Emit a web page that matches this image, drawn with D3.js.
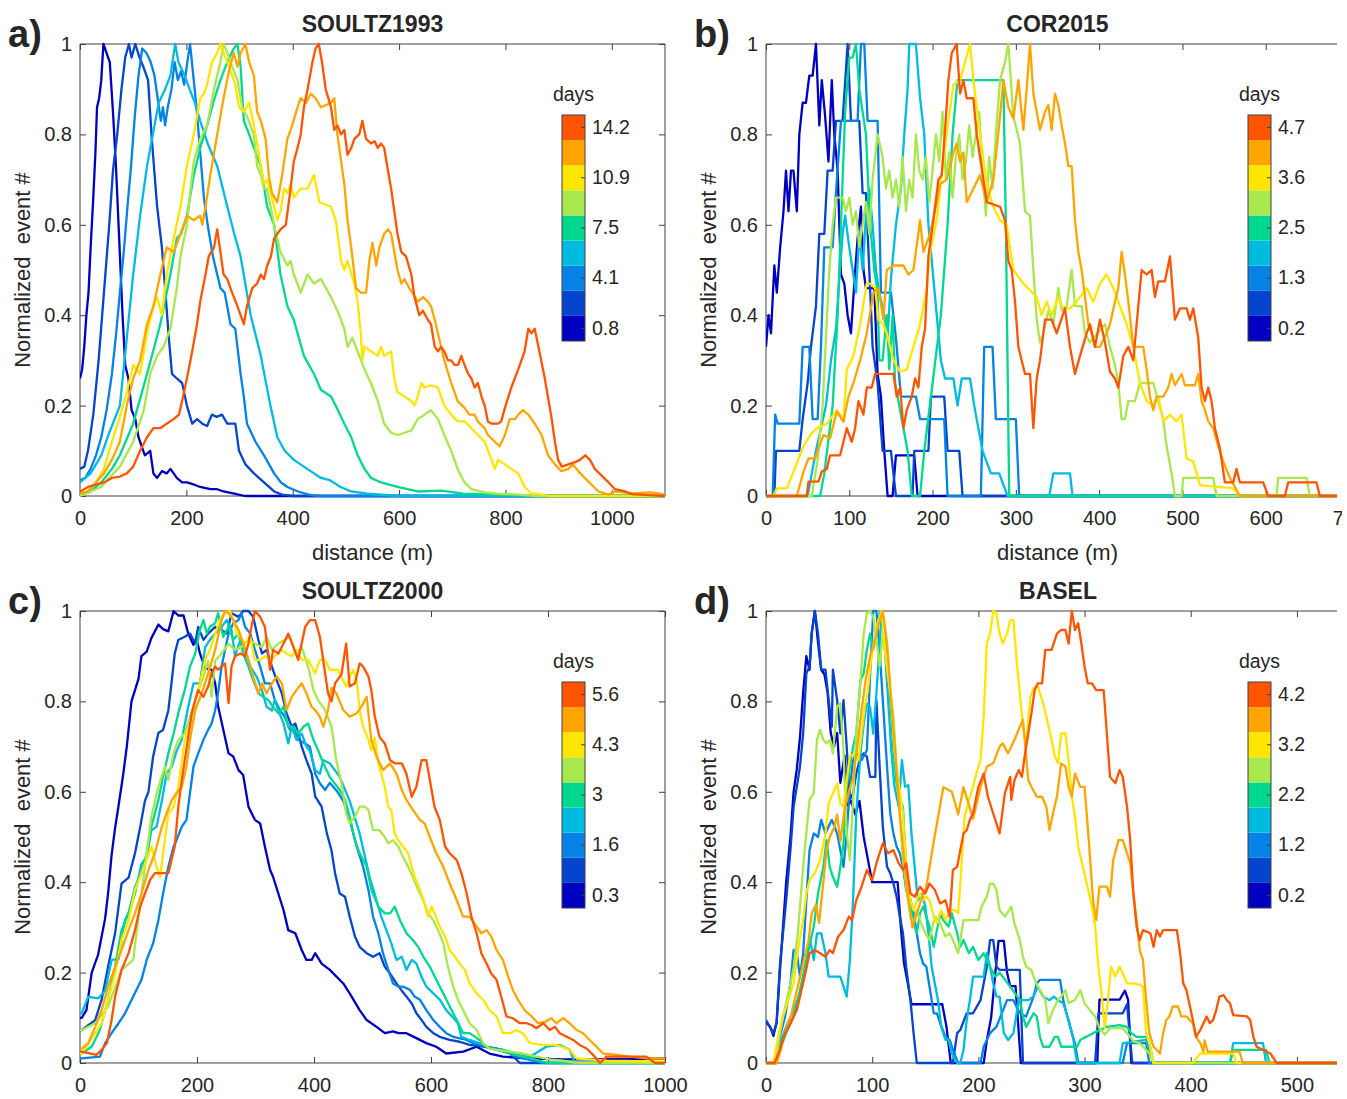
<!DOCTYPE html>
<html>
<head>
<meta charset="utf-8">
<script src="https://cdnjs.cloudflare.com/ajax/libs/d3/7.8.5/d3.min.js"></script>
<style>
  body { margin: 0; background: #fff; }
  text { font-family: "Liberation Sans", Arial, Helvetica, sans-serif; fill: #262626; }
</style>
</head>
<body>
<div id="figure"></div>
<script>
// colormap of the colorbars (low days -> high days)
var colors = ["#0000c0", "#0544cc", "#0582e6", "#00bbe0", "#00d890", "#a8e84c", "#ffe600", "#ffa500", "#ff5500"];

var panelTitles = ["SOULTZ1993", "COR2015", "SOULTZ2000", "BASEL"];
var panelLetters = ["a)", "b)", "c)", "d)"];
var yTicks = [0, 0.2, 0.4, 0.6, 0.8, 1];
var xTicksA = [0, 200, 400, 600, 800, 1000];
var xTicksB = [0, 100, 200, 300, 400, 500, 600, 700];
var xTicksC = [0, 200, 400, 600, 800, 1000];
var xTicksD = [0, 100, 200, 300, 400, 500];
var xMaxes = [1100, 700, 1000, 550];
// colorbar tick labels, top to bottom
var daysA = ["14.2", "10.9", "7.5", "4.1", "0.8"];
var daysB = ["4.7", "3.6", "2.5", "1.3", "0.2"];
var daysC = ["5.6", "4.3", "3", "1.6", "0.3"];
var daysD = ["4.2", "3.2", "2.2", "1.2", "0.2"];

// ---- SOULTZ1993 : [distance m, normalized event #]
var a0 = [[0,0.26],[4,0.28],[8,0.33],[12,0.4],[16,0.45],[20,0.55],[25,0.66],[29,0.76],[32,0.86],[36,0.88],[40,0.92],[44,1.0],[50,0.98],[56,0.96],[62,0.85],[68,0.72],[74,0.56],[80,0.4],[85,0.29],[91,0.26],[97,0.19],[104,0.17],[110,0.13],[116,0.11],[122,0.09],[132,0.1],[138,0.05],[145,0.04],[154,0.055],[163,0.05],[170,0.06],[182,0.04],[192,0.03],[201,0.03],[215,0.025],[226,0.02],[245,0.015],[258,0.015],[270,0.01],[290,0.005],[310,0],[1100,0]];
var a1 = [[0,0.06],[8,0.065],[15,0.1],[25,0.18],[35,0.3],[45,0.45],[55,0.6],[62,0.72],[70,0.8],[78,0.9],[85,0.97],[92,1.0],[97,0.97],[104,1.0],[112,0.97],[119,0.95],[128,0.92],[135,0.79],[145,0.64],[154,0.55],[160,0.46],[167,0.35],[173,0.27],[182,0.26],[192,0.25],[201,0.2],[211,0.16],[220,0.17],[230,0.16],[239,0.155],[248,0.18],[257,0.175],[267,0.18],[277,0.16],[292,0.16],[299,0.1],[311,0.07],[327,0.05],[346,0.03],[365,0.01],[380,0.003],[400,0],[1100,0]];
var a2 = [[0,0.035],[10,0.04],[20,0.06],[30,0.09],[40,0.13],[50,0.19],[60,0.27],[68,0.36],[75,0.45],[83,0.55],[90,0.65],[96,0.73],[103,0.84],[110,0.93],[117,0.99],[125,0.98],[133,0.96],[140,0.93],[146,0.88],[152,0.83],[156,0.86],[160,0.82],[165,0.86],[172,0.9],[178,0.96],[184,0.92],[190,0.94],[196,0.91],[203,0.97],[207,1.0],[213,0.93],[219,0.86],[226,0.76],[233,0.66],[240,0.6],[250,0.53],[258,0.49],[264,0.46],[272,0.45],[283,0.38],[292,0.37],[302,0.27],[308,0.22],[314,0.16],[330,0.12],[346,0.09],[365,0.05],[378,0.03],[390,0.02],[410,0.01],[430,0.003],[450,0],[1100,0]];
var a3 = [[0,0.03],[20,0.05],[40,0.09],[55,0.14],[65,0.17],[75,0.2],[88,0.35],[100,0.49],[113,0.62],[126,0.73],[137,0.8],[148,0.87],[160,0.9],[170,0.93],[179,1.0],[185,0.96],[197,0.93],[206,0.9],[216,0.87],[226,0.83],[240,0.78],[258,0.73],[277,0.64],[290,0.58],[302,0.53],[321,0.4],[340,0.31],[358,0.2],[371,0.13],[385,0.1],[402,0.08],[421,0.065],[440,0.05],[453,0.04],[470,0.035],[490,0.02],[510,0.01],[540,0.005],[600,0],[1100,0]];
var a4 = [[0,0],[20,0.01],[40,0.03],[60,0.06],[75,0.09],[100,0.16],[126,0.27],[151,0.38],[170,0.49],[182,0.57],[190,0.58],[201,0.62],[214,0.71],[226,0.77],[239,0.82],[252,0.876],[264,0.92],[277,0.96],[289,0.99],[296,1.0],[302,0.95],[308,0.83],[318,0.8],[327,0.77],[340,0.73],[352,0.64],[365,0.6],[377,0.49],[390,0.42],[402,0.39],[421,0.31],[440,0.27],[453,0.235],[472,0.22],[485,0.19],[497,0.16],[510,0.13],[522,0.09],[535,0.06],[547,0.04],[566,0.03],[597,0.02],[635,0.01],[680,0.012],[720,0.005],[780,0.003],[850,0],[1100,0]];
var a5 = [[0,0],[20,0.01],[40,0.02],[55,0.04],[75,0.065],[100,0.12],[120,0.19],[132,0.27],[145,0.31],[157,0.33],[170,0.37],[182,0.46],[189,0.53],[201,0.6],[208,0.68],[214,0.74],[226,0.79],[239,0.82],[252,0.9],[264,0.96],[270,1.0],[277,0.98],[286,0.95],[296,0.92],[305,0.86],[314,0.84],[327,0.8],[333,0.73],[340,0.71],[346,0.68],[352,0.68],[365,0.6],[377,0.54],[390,0.51],[396,0.52],[402,0.49],[415,0.45],[428,0.49],[440,0.47],[453,0.48],[472,0.44],[484,0.41],[497,0.37],[503,0.33],[512,0.35],[522,0.32],[535,0.28],[547,0.25],[560,0.21],[572,0.16],[585,0.14],[597,0.135],[610,0.14],[623,0.145],[635,0.17],[648,0.18],[660,0.19],[673,0.17],[685,0.135],[698,0.1],[710,0.06],[723,0.03],[736,0.015],[761,0.008],[786,0.005],[824,0.003],[860,0],[1100,0]];
var a6 = [[0,0.005],[15,0.01],[30,0.03],[45,0.06],[60,0.12],[75,0.175],[88,0.23],[100,0.29],[113,0.27],[126,0.36],[138,0.42],[145,0.44],[154,0.4],[163,0.49],[176,0.57],[189,0.64],[201,0.73],[214,0.8],[226,0.88],[233,0.89],[239,0.91],[248,0.96],[258,0.98],[264,1.0],[270,0.98],[277,0.96],[286,0.93],[292,0.91],[299,0.86],[308,0.85],[318,0.87],[327,0.82],[333,0.78],[340,0.73],[346,0.69],[352,0.7],[359,0.67],[365,0.64],[371,0.61],[377,0.63],[384,0.68],[390,0.67],[396,0.69],[402,0.66],[415,0.68],[428,0.68],[440,0.71],[450,0.65],[472,0.64],[481,0.61],[491,0.52],[497,0.5],[503,0.52],[516,0.47],[522,0.43],[528,0.36],[531,0.3],[535,0.33],[547,0.32],[560,0.31],[566,0.33],[572,0.31],[585,0.32],[591,0.26],[597,0.23],[610,0.22],[623,0.21],[629,0.2],[635,0.22],[642,0.25],[648,0.24],[660,0.245],[673,0.24],[685,0.2],[698,0.18],[710,0.165],[723,0.165],[736,0.15],[748,0.135],[761,0.12],[774,0.08],[780,0.06],[786,0.08],[799,0.07],[811,0.06],[824,0.05],[836,0.02],[849,0.005],[861,0.005],[880,0],[1100,0]];
var a7 = [[0,0.005],[15,0.01],[30,0.03],[45,0.05],[60,0.08],[75,0.12],[88,0.2],[100,0.26],[113,0.3],[126,0.38],[138,0.42],[151,0.49],[163,0.55],[176,0.54],[186,0.57],[201,0.62],[214,0.61],[226,0.62],[230,0.6],[236,0.64],[245,0.71],[258,0.8],[270,0.88],[280,0.94],[289,0.98],[296,0.95],[302,0.98],[311,1.0],[318,0.96],[327,0.93],[333,0.85],[340,0.83],[349,0.79],[355,0.71],[361,0.67],[371,0.65],[380,0.71],[390,0.79],[399,0.82],[409,0.86],[415,0.88],[425,0.87],[434,0.89],[443,0.88],[453,0.86],[472,0.87],[478,0.88],[484,0.8],[497,0.69],[503,0.61],[510,0.55],[519,0.46],[528,0.45],[538,0.45],[544,0.52],[550,0.56],[557,0.51],[563,0.55],[572,0.58],[579,0.59],[585,0.58],[591,0.54],[597,0.5],[604,0.47],[610,0.48],[619,0.46],[625,0.45],[635,0.43],[645,0.44],[654,0.43],[660,0.42],[667,0.39],[673,0.36],[685,0.3],[698,0.25],[710,0.21],[723,0.195],[732,0.18],[742,0.18],[748,0.165],[761,0.15],[767,0.135],[780,0.12],[789,0.11],[799,0.135],[808,0.17],[818,0.17],[824,0.18],[833,0.19],[843,0.18],[855,0.16],[868,0.135],[880,0.09],[893,0.07],[905,0.055],[918,0.06],[927,0.07],[937,0.055],[949,0.04],[962,0.025],[975,0.01],[994,0.003],[1006,0.01],[1038,0.006],[1075,0.008],[1100,0.003]];
var a8 = [[0,0.01],[15,0.02],[30,0.025],[45,0.03],[60,0.04],[75,0.043],[88,0.05],[100,0.065],[113,0.1],[126,0.13],[138,0.15],[151,0.15],[163,0.16],[176,0.17],[186,0.18],[192,0.21],[201,0.26],[211,0.32],[220,0.38],[226,0.43],[236,0.49],[242,0.53],[252,0.55],[258,0.59],[264,0.54],[270,0.49],[277,0.48],[286,0.45],[296,0.42],[302,0.4],[308,0.38],[314,0.42],[324,0.46],[333,0.47],[340,0.49],[346,0.48],[352,0.51],[359,0.53],[365,0.57],[371,0.58],[377,0.59],[387,0.6],[396,0.68],[402,0.74],[409,0.77],[415,0.8],[421,0.86],[428,0.9],[437,0.96],[443,0.99],[449,1.0],[455,0.96],[462,0.9],[472,0.86],[478,0.81],[484,0.82],[491,0.8],[497,0.81],[503,0.755],[510,0.77],[516,0.79],[525,0.8],[531,0.83],[538,0.79],[547,0.78],[554,0.785],[560,0.77],[566,0.78],[572,0.77],[579,0.72],[585,0.68],[591,0.63],[597,0.58],[604,0.54],[613,0.53],[623,0.49],[629,0.44],[638,0.4],[645,0.41],[654,0.39],[660,0.38],[667,0.33],[673,0.32],[679,0.33],[685,0.32],[692,0.3],[698,0.3],[704,0.29],[711,0.29],[717,0.31],[723,0.29],[730,0.27],[736,0.26],[742,0.24],[748,0.25],[755,0.22],[761,0.2],[767,0.165],[774,0.16],[786,0.16],[792,0.165],[799,0.195],[811,0.24],[824,0.28],[836,0.32],[843,0.37],[849,0.36],[855,0.37],[862,0.33],[874,0.26],[887,0.17],[893,0.12],[899,0.08],[906,0.065],[918,0.07],[931,0.075],[940,0.08],[950,0.09],[959,0.08],[968,0.06],[981,0.045],[994,0.03],[1006,0.015],[1025,0.01],[1038,0.004],[1069,0.002],[1100,0]];

// ---- COR2015
var b0 = [[0,0.33],[3,0.4],[6,0.36],[10,0.51],[13,0.45],[17,0.55],[21,0.63],[24,0.72],[27,0.63],[30,0.72],[33,0.72],[37,0.63],[40,0.8],[44,0.87],[48,0.87],[52,0.93],[56,0.93],[60,1.0],[64,0.82],[67,0.92],[71,0.84],[75,0.74],[79,0.92],[82,0.8],[86,0.72],[90,0.49],[94,0.47],[98,0.4],[102,0.36],[106,0.47],[110,0.57],[114,0.64],[117,0.5],[120,0.46],[130,0.46],[134,0.27],[138,0.22],[142,0.1],[146,0],[152,0],[156,0.09],[178,0.09],[182,0],[700,0]];
var b1 = [[0,0],[10,0],[12,0.1],[40,0.1],[44,0.17],[50,0.25],[54,0.33],[60,0.42],[64,0.58],[70,0.58],[74,0.72],[80,0.72],[84,0.83],[92,0.83],[98,1.0],[102,0.83],[112,0.83],[116,0.67],[120,0.67],[124,0.5],[128,0.33],[134,0.25],[140,0.1],[150,0.1],[156,0],[176,0],[178,0.1],[195,0.1],[198,0.22],[214,0.22],[218,0.1],[232,0.1],[236,0],[700,0]];
var b2 = [[0,0],[8,0],[11,0.18],[14,0.16],[40,0.16],[44,0.33],[52,0.33],[56,0.17],[62,0.17],[66,0.33],[70,0.55],[80,0.55],[84,0.67],[90,0.83],[110,0.83],[114,1.0],[118,1.0],[122,0.83],[134,0.83],[138,0.45],[150,0.45],[156,0.35],[162,0.22],[180,0.22],[185,0.17],[214,0.17],[218,0],[258,0],[262,0.33],[272,0.33],[276,0.17],[300,0.17],[304,0],[700,0]];
var b3 = [[0,0],[50,0],[55,0.05],[60,0.1],[66,0.15],[72,0.2],[78,0.3],[84,0.37],[88,0.48],[92,0.58],[95,0.62],[100,0.55],[104,0.5],[108,0.45],[112,0.58],[116,0.5],[120,0.62],[124,0.68],[128,0.6],[132,0.5],[136,0.45],[142,0.4],[146,0.35],[150,0.48],[156,0.6],[162,0.68],[166,0.8],[170,0.9],[172,1.0],[180,1.0],[185,0.88],[190,0.8],[195,0.6],[200,0.5],[205,0.4],[210,0.3],[215,0.26],[225,0.26],[230,0.2],[235,0.26],[245,0.26],[250,0.2],[255,0.15],[260,0.1],[270,0.05],[280,0.05],[290,0],[340,0],[345,0.05],[365,0.05],[368,0],[700,0]];
var b4 = [[0,0],[65,0],[70,0.05],[80,0.2],[86,0.4],[90,0.6],[95,0.85],[100,0.97],[104,0.97],[108,1.0],[112,0.9],[116,0.85],[120,0.8],[125,0.6],[130,0.5],[134,0.45],[136,0.3],[140,0.3],[145,0.4],[148,0.28],[152,0.4],[155,0.25],[160,0.2],[165,0.15],[170,0.1],[175,0],[185,0],[190,0.1],[200,0.25],[210,0.4],[218,0.6],[224,0.8],[230,0.92],[285,0.92],[288,0.6],[292,0],[700,0]];
var b5 = [[0,0],[55,0],[62,0.08],[68,0.2],[72,0.35],[76,0.5],[80,0.6],[84,0.66],[92,0.66],[96,0.63],[100,0.66],[104,0.6],[108,0.63],[112,0.55],[116,0.6],[120,0.65],[124,0.58],[128,0.7],[134,0.8],[140,0.75],[144,0.68],[148,0.72],[152,0.66],[156,0.7],[160,0.64],[164,0.75],[168,0.63],[172,0.7],[176,0.66],[180,0.8],[184,0.72],[188,0.7],[192,0.75],[196,0.65],[200,0.72],[204,0.8],[208,0.74],[212,0.85],[216,0.7],[220,0.76],[224,0.66],[228,0.75],[232,0.8],[236,0.7],[240,0.74],[244,0.82],[248,0.75],[252,0.8],[256,0.85],[260,0.72],[264,0.62],[268,0.75],[272,0.68],[276,0.8],[281,0.92],[287,0.96],[291,1.0],[297,0.84],[305,0.78],[311,0.63],[317,0.62],[321,0.5],[325,0.39],[329,0.34],[333,0.36],[339,0.41],[345,0.38],[351,0.46],[355,0.41],[361,0.42],[367,0.5],[371,0.42],[379,0.42],[383,0.36],[389,0.34],[398,0.36],[407,0.38],[413,0.33],[419,0.29],[423,0.25],[427,0.17],[431,0.17],[435,0.21],[443,0.21],[449,0.25],[465,0.25],[471,0.21],[477,0.17],[481,0.11],[487,0.05],[491,0],[499,0],[501,0.04],[537,0.04],[541,0],[613,0],[615,0.04],[649,0.04],[653,0],[700,0]];
var b6 = [[0,0],[9,0],[13,0.017],[25,0.017],[33,0.054],[45,0.11],[53,0.135],[61,0.15],[73,0.16],[85,0.19],[93,0.17],[97,0.28],[105,0.31],[113,0.38],[121,0.47],[125,0.47],[131,0.46],[135,0.39],[141,0.38],[145,0.36],[153,0.3],[161,0.275],[169,0.28],[177,0.33],[185,0.38],[193,0.46],[197,0.54],[205,0.61],[209,0.68],[217,0.8],[225,0.91],[233,0.92],[245,1.0],[249,0.92],[257,0.8],[265,0.69],[273,0.64],[281,0.61],[289,0.6],[297,0.5],[309,0.47],[325,0.44],[331,0.4],[337,0.43],[343,0.4],[351,0.44],[357,0.415],[365,0.415],[373,0.43],[385,0.46],[393,0.43],[401,0.47],[409,0.49],[417,0.46],[423,0.43],[433,0.38],[441,0.33],[449,0.25],[457,0.21],[465,0.2],[471,0.22],[477,0.165],[485,0.18],[493,0.165],[499,0.18],[505,0.083],[513,0.076],[521,0.024],[561,0.017],[569,0],[700,0]];
var b7 = [[0,0],[37,0],[45,0.054],[51,0.083],[59,0.083],[63,0.105],[69,0.135],[77,0.128],[85,0.187],[93,0.164],[99,0.22],[105,0.25],[113,0.3],[121,0.36],[129,0.45],[135,0.46],[141,0.39],[145,0.5],[153,0.51],[165,0.51],[171,0.49],[177,0.5],[185,0.61],[189,0.54],[197,0.58],[205,0.65],[209,0.69],[217,0.7],[225,0.76],[229,0.78],[233,0.74],[237,0.76],[241,0.65],[249,0.68],[257,0.71],[265,0.65],[273,0.7],[281,0.84],[285,0.92],[291,0.86],[297,0.835],[303,0.92],[309,0.81],[313,0.9],[317,1.0],[321,0.89],[329,0.81],[335,0.85],[339,0.865],[343,0.81],[347,0.89],[351,0.865],[355,0.82],[359,0.78],[363,0.73],[367,0.73],[371,0.61],[375,0.54],[379,0.5],[383,0.44],[387,0.38],[391,0.36],[395,0.33],[401,0.33],[409,0.36],[413,0.38],[419,0.43],[423,0.46],[427,0.54],[431,0.49],[435,0.43],[441,0.33],[453,0.33],[457,0.28],[461,0.22],[465,0.19],[469,0.22],[477,0.22],[483,0.24],[487,0.27],[491,0.245],[499,0.27],[503,0.245],[515,0.245],[519,0.27],[523,0.21],[527,0.19],[531,0.165],[537,0.15],[543,0.11],[549,0.076],[557,0.04],[569,0],[700,0]];
var b8 = [[0,0],[49,0],[51,0.032],[63,0.032],[67,0.054],[73,0.06],[77,0.09],[89,0.09],[97,0.15],[103,0.12],[107,0.15],[111,0.21],[117,0.18],[121,0.24],[127,0.24],[131,0.27],[153,0.27],[157,0.22],[161,0.24],[165,0.15],[169,0.19],[175,0.22],[179,0.26],[183,0.24],[187,0.33],[191,0.37],[195,0.53],[201,0.61],[207,0.7],[211,0.71],[215,0.81],[219,0.92],[223,0.98],[229,1.0],[233,0.89],[237,0.92],[241,0.88],[249,0.88],[253,0.8],[257,0.75],[265,0.65],[281,0.64],[287,0.61],[291,0.52],[295,0.5],[299,0.43],[303,0.33],[307,0.3],[311,0.27],[317,0.27],[321,0.15],[325,0.26],[329,0.3],[335,0.39],[343,0.39],[349,0.36],[359,0.415],[365,0.33],[371,0.27],[377,0.31],[385,0.36],[389,0.38],[395,0.33],[401,0.39],[407,0.34],[413,0.275],[419,0.26],[423,0.24],[429,0.31],[435,0.33],[441,0.3],[445,0.38],[451,0.5],[457,0.49],[463,0.5],[467,0.44],[471,0.475],[479,0.475],[485,0.53],[491,0.39],[497,0.415],[505,0.415],[509,0.39],[513,0.415],[519,0.35],[523,0.24],[527,0.21],[531,0.24],[535,0.21],[539,0.15],[545,0.105],[551,0.03],[561,0.03],[565,0.06],[569,0.03],[597,0.03],[603,0],[623,0],[627,0.03],[661,0.03],[665,0],[700,0]];

// ---- SOULTZ2000
var c0 = [[0,0.1],[3,0.1],[11,0.117],[20,0.2],[31,0.24],[43,0.32],[48,0.375],[54,0.46],[60,0.52],[66,0.57],[74,0.64],[80,0.7],[88,0.8],[100,0.85],[105,0.9],[114,0.91],[122,0.94],[134,0.97],[142,0.96],[151,0.955],[160,1.0],[168,0.99],[177,0.99],[185,0.95],[194,0.925],[199,0.94],[205,0.906],[214,0.873],[225,0.87],[231,0.84],[236,0.79],[245,0.737],[254,0.685],[262,0.678],[271,0.648],[279,0.637],[288,0.567],[299,0.538],[308,0.53],[316,0.479],[325,0.427],[330,0.412],[339,0.375],[348,0.338],[356,0.294],[368,0.287],[379,0.25],[387,0.228],[396,0.228],[402,0.243],[413,0.22],[427,0.206],[450,0.176],[461,0.154],[478,0.117],[490,0.095],[507,0.08],[521,0.066],[535,0.07],[544,0.066],[558,0.066],[575,0.055],[592,0.044],[609,0.036],[626,0.021],[655,0.025],[678,0.036],[700,0.021],[723,0.014],[769,0.01],[826,0.008],[883,0.008],[1000,0.01]];
var c1 = [[0,0.073],[3,0.073],[26,0.095],[37,0.14],[48,0.213],[60,0.287],[71,0.397],[83,0.41],[94,0.464],[103,0.523],[111,0.58],[117,0.6],[125,0.678],[134,0.73],[142,0.737],[151,0.78],[157,0.847],[162,0.906],[168,0.936],[179,0.943],[188,0.95],[197,0.928],[202,0.965],[211,0.936],[219,0.95],[231,0.965],[242,0.958],[251,0.95],[259,0.995],[271,0.987],[279,1.0],[288,1.0],[296,0.987],[305,0.936],[311,0.906],[319,0.914],[328,0.877],[336,0.847],[345,0.818],[353,0.774],[362,0.744],[368,0.751],[373,0.73],[379,0.7],[387,0.67],[396,0.64],[402,0.59],[413,0.567],[422,0.508],[430,0.47],[436,0.42],[444,0.375],[453,0.368],[461,0.324],[470,0.28],[478,0.257],[490,0.243],[501,0.235],[512,0.243],[521,0.213],[530,0.198],[541,0.176],[550,0.16],[558,0.147],[567,0.132],[575,0.11],[584,0.095],[592,0.08],[604,0.066],[615,0.058],[632,0.051],[649,0.047],[666,0.04],[689,0.036],[712,0.032],[735,0.021],[752,0],[1000,0]];
var c2 = [[0,0.01],[3,0.01],[34,0.014],[43,0.044],[54,0.066],[66,0.088],[77,0.11],[91,0.147],[105,0.184],[114,0.228],[125,0.265],[134,0.316],[142,0.375],[151,0.434],[160,0.479],[165,0.493],[174,0.523],[182,0.538],[188,0.597],[194,0.656],[202,0.685],[211,0.715],[219,0.737],[225,0.751],[231,0.78],[236,0.818],[242,0.877],[248,0.914],[254,0.95],[262,0.973],[271,0.98],[276,0.995],[282,0.965],[291,0.95],[299,0.914],[308,0.877],[316,0.84],[325,0.84],[333,0.803],[342,0.78],[350,0.766],[359,0.737],[368,0.737],[373,0.715],[385,0.707],[393,0.7],[402,0.64],[410,0.619],[419,0.604],[427,0.62],[440,0.6],[450,0.58],[461,0.538],[473,0.479],[484,0.434],[493,0.383],[501,0.324],[510,0.287],[518,0.243],[527,0.206],[535,0.176],[544,0.169],[552,0.169],[564,0.162],[572,0.147],[581,0.14],[592,0.117],[604,0.095],[615,0.08],[626,0.066],[638,0.058],[661,0.051],[672,0.044],[695,0.036],[723,0.029],[746,0.014],[769,0.007],[790,0],[1000,0]];
var c3 = [[0,0.11],[3,0.11],[14,0.147],[31,0.143],[43,0.16],[54,0.228],[66,0.23],[77,0.316],[85,0.338],[94,0.375],[105,0.44],[114,0.456],[122,0.515],[131,0.523],[140,0.58],[148,0.64],[157,0.656],[165,0.69],[174,0.715],[185,0.788],[194,0.84],[205,0.84],[214,0.92],[222,0.936],[231,0.95],[242,0.965],[251,0.98],[259,0.958],[265,0.9],[274,0.936],[282,0.914],[291,0.877],[302,0.855],[311,0.825],[319,0.788],[328,0.78],[333,0.803],[339,0.78],[348,0.751],[356,0.707],[362,0.744],[370,0.715],[379,0.729],[387,0.7],[393,0.69],[402,0.648],[410,0.64],[416,0.67],[427,0.663],[444,0.633],[461,0.58],[478,0.508],[495,0.412],[515,0.324],[532,0.265],[541,0.228],[550,0.235],[558,0.206],[567,0.228],[575,0.22],[584,0.19],[592,0.169],[604,0.154],[615,0.14],[626,0.117],[638,0.1],[646,0.088],[652,0.058],[666,0.051],[683,0.044],[700,0.032],[723,0.029],[746,0.021],[769,0.014],[797,0.036],[820,0.04],[837,0.029],[846,0],[1000,0]];
var c4 = [[0,0.021],[3,0.021],[20,0.036],[34,0.073],[48,0.14],[60,0.213],[71,0.294],[83,0.331],[94,0.39],[105,0.42],[114,0.464],[122,0.523],[134,0.582],[142,0.633],[151,0.685],[160,0.729],[168,0.774],[179,0.825],[188,0.877],[197,0.906],[205,0.958],[211,0.98],[217,0.95],[222,0.965],[231,0.973],[236,0.995],[245,0.943],[254,0.965],[262,0.936],[271,0.95],[279,0.906],[288,0.877],[296,0.847],[305,0.818],[313,0.81],[322,0.803],[330,0.788],[339,0.774],[348,0.788],[356,0.744],[365,0.744],[373,0.729],[382,0.744],[390,0.751],[399,0.715],[407,0.692],[416,0.663],[427,0.633],[444,0.604],[453,0.582],[461,0.545],[470,0.493],[478,0.464],[490,0.434],[498,0.383],[510,0.346],[521,0.331],[530,0.331],[538,0.346],[547,0.316],[558,0.287],[569,0.272],[578,0.257],[587,0.235],[598,0.213],[609,0.184],[621,0.154],[632,0.125],[644,0.095],[655,0.066],[666,0.066],[683,0.051],[695,0.036],[712,0.029],[735,0.021],[757,0.014],[780,0.007],[800,0],[1000,0]];
var c5 = [[0,0.073],[3,0.073],[26,0.088],[48,0.125],[71,0.206],[91,0.228],[100,0.324],[111,0.434],[122,0.545],[134,0.611],[145,0.656],[151,0.626],[160,0.685],[168,0.715],[179,0.729],[188,0.766],[197,0.803],[205,0.833],[211,0.855],[219,0.89],[225,0.81],[231,0.89],[242,0.906],[254,0.928],[265,0.914],[276,0.92],[288,0.936],[299,0.928],[311,0.92],[319,0.943],[328,0.914],[339,0.928],[350,0.936],[359,0.943],[368,0.906],[379,0.92],[390,0.877],[399,0.825],[407,0.803],[419,0.781],[430,0.744],[438,0.67],[447,0.619],[455,0.552],[461,0.53],[470,0.545],[478,0.567],[487,0.567],[493,0.56],[501,0.515],[512,0.515],[521,0.5],[527,0.486],[535,0.493],[544,0.479],[552,0.456],[561,0.434],[569,0.412],[578,0.383],[587,0.36],[595,0.331],[604,0.316],[612,0.294],[621,0.265],[629,0.213],[638,0.169],[646,0.14],[655,0.117],[666,0.088],[678,0.073],[689,0.044],[700,0.032],[712,0.029],[735,0.025],[757,0.021],[780,0.014],[803,0.008],[826,0.005],[850,0],[1000,0]];
var c6 = [[0,0.021],[3,0.021],[26,0.066],[37,0.088],[48,0.14],[60,0.198],[71,0.272],[83,0.316],[94,0.383],[105,0.42],[114,0.449],[122,0.479],[131,0.434],[137,0.412],[142,0.464],[151,0.552],[160,0.567],[168,0.611],[179,0.715],[188,0.751],[197,0.803],[205,0.84],[214,0.892],[222,0.914],[231,0.95],[239,0.98],[248,0.995],[256,1.0],[262,0.98],[268,0.95],[274,0.943],[282,0.928],[291,0.943],[299,0.892],[308,0.892],[316,0.9],[325,0.892],[333,0.9],[345,0.914],[353,0.906],[362,0.9],[370,0.914],[379,0.892],[390,0.892],[402,0.862],[410,0.892],[419,0.892],[427,0.87],[441,0.87],[455,0.833],[467,0.87],[473,0.847],[478,0.78],[484,0.744],[493,0.715],[498,0.692],[504,0.72],[510,0.663],[515,0.64],[521,0.611],[527,0.567],[532,0.56],[538,0.508],[544,0.493],[552,0.479],[561,0.464],[567,0.434],[572,0.412],[581,0.383],[589,0.353],[595,0.324],[601,0.346],[606,0.331],[615,0.302],[624,0.28],[632,0.25],[641,0.235],[649,0.22],[658,0.206],[666,0.176],[678,0.154],[689,0.14],[700,0.117],[712,0.103],[723,0.066],[735,0.066],[746,0.073],[757,0.066],[769,0.044],[792,0.04],[814,0.04],[837,0.029],[849,0.01],[871,0.008],[900,0.005],[1000,0.003]];
var c7 = [[0,0.032],[3,0.032],[14,0.044],[26,0.08],[37,0.117],[48,0.169],[60,0.213],[71,0.25],[83,0.294],[94,0.331],[105,0.375],[117,0.427],[128,0.464],[140,0.523],[148,0.552],[157,0.582],[165,0.597],[174,0.611],[182,0.656],[188,0.715],[197,0.781],[208,0.818],[219,0.862],[231,0.914],[242,0.98],[248,1.0],[254,0.995],[262,0.98],[271,0.958],[279,0.928],[288,0.892],[296,0.855],[305,0.818],[311,0.84],[319,0.818],[328,0.84],[336,0.855],[345,0.84],[353,0.781],[362,0.81],[370,0.825],[379,0.84],[387,0.818],[396,0.788],[402,0.781],[410,0.766],[416,0.744],[424,0.781],[430,0.83],[438,0.818],[450,0.781],[461,0.766],[473,0.774],[481,0.788],[490,0.81],[498,0.715],[507,0.678],[518,0.648],[530,0.663],[541,0.64],[550,0.604],[558,0.582],[569,0.56],[581,0.538],[589,0.53],[598,0.5],[609,0.464],[621,0.434],[632,0.397],[644,0.36],[655,0.324],[666,0.324],[678,0.302],[686,0.287],[695,0.294],[703,0.28],[712,0.25],[723,0.228],[732,0.191],[740,0.161],[749,0.139],[760,0.117],[772,0.103],[783,0.088],[795,0.091],[806,0.099],[814,0.088],[826,0.099],[837,0.088],[849,0.073],[860,0.066],[871,0.051],[883,0.036],[894,0.021],[917,0.018],[940,0.014],[974,0.01],[1000,0.01]];
var c8 = [[0,0.025],[3,0.025],[28,0.018],[37,0.029],[46,0.044],[54,0.095],[60,0.147],[71,0.206],[83,0.243],[94,0.294],[103,0.346],[111,0.375],[120,0.405],[128,0.42],[151,0.42],[162,0.479],[168,0.567],[174,0.626],[179,0.67],[185,0.721],[191,0.774],[197,0.803],[202,0.825],[211,0.81],[219,0.833],[225,0.862],[231,0.877],[236,0.87],[242,0.877],[248,0.884],[254,0.796],[259,0.877],[265,0.9],[274,0.906],[282,0.9],[288,0.928],[293,0.965],[299,1.0],[308,0.987],[316,0.965],[325,0.87],[330,0.914],[339,0.906],[348,0.928],[356,0.95],[365,0.92],[373,0.892],[385,0.965],[393,0.98],[402,0.98],[410,0.943],[419,0.862],[424,0.818],[430,0.8],[436,0.84],[447,0.86],[455,0.928],[461,0.833],[470,0.84],[478,0.884],[484,0.877],[493,0.855],[498,0.825],[504,0.766],[512,0.721],[521,0.707],[530,0.67],[538,0.663],[550,0.663],[558,0.64],[567,0.589],[575,0.611],[584,0.67],[592,0.67],[598,0.626],[606,0.567],[615,0.538],[624,0.479],[632,0.464],[644,0.449],[652,0.42],[661,0.375],[669,0.324],[678,0.287],[686,0.243],[695,0.22],[703,0.198],[712,0.184],[720,0.147],[729,0.103],[740,0.099],[752,0.088],[763,0.088],[772,0.084],[780,0.077],[792,0.088],[803,0.073],[812,0.08],[820,0.066],[832,0.058],[843,0.051],[854,0.04],[866,0.032],[877,0.018],[889,0],[900,0.014],[968,0.014],[983,0],[1000,0]];

// ---- BASEL
var bs0 = [[0,0.09],[4,0.08],[7,0.06],[10,0.09],[13,0.2],[16,0.3],[19,0.4],[23,0.5],[26,0.6],[29,0.65],[32,0.72],[35,0.82],[38,0.9],[41,0.87],[43,0.95],[46,1.0],[49,0.93],[52,0.87],[55,0.86],[58,0.82],[61,0.73],[64,0.7],[67,0.73],[70,0.62],[74,0.68],[77,0.57],[80,0.58],[84,0.55],[88,0.58],[92,0.5],[96,0.45],[100,0.4],[124,0.4],[127,0.3],[130,0.22],[134,0.17],[137,0.13],[166,0.13],[170,0.08],[174,0],[205,0],[208,0.05],[212,0.1],[216,0.2],[219,0.27],[224,0.27],[227,0.2],[230,0.17],[235,0.17],[240,0],[312,0],[314,0.14],[333,0.14],[338,0.16],[341,0.14],[344,0],[550,0]];
var bs1 = [[0,0.095],[7,0.066],[10,0.088],[13,0.213],[16,0.287],[19,0.36],[23,0.471],[26,0.567],[29,0.611],[32,0.656],[35,0.729],[38,0.862],[41,0.877],[43,0.95],[46,1.0],[49,0.95],[52,0.87],[56,0.87],[59,0.803],[62,0.744],[63,0.87],[67,0.803],[70,0.729],[73,0.803],[76,0.7],[79,0.582],[82,0.597],[85,0.64],[89,0.678],[92,0.685],[95,0.678],[98,0.633],[103,0.633],[104,0.803],[107,0.656],[110,0.523],[114,0.434],[117,0.42],[120,0.397],[123,0.368],[126,0.324],[129,0.287],[132,0.213],[136,0.139],[139,0.066],[142,0],[176,0],[180,0.066],[183,0.073],[189,0.11],[195,0.11],[202,0.139],[208,0.213],[211,0.272],[214,0.272],[217,0.213],[220,0.206],[239,0.206],[242,0],[310,0],[313,0.11],[336,0.11],[340,0.13],[345,0],[550,0]];
var bs2 = [[0,0],[10,0],[13,0.058],[18,0.103],[23,0.176],[26,0.25],[29,0.243],[32,0.191],[35,0.243],[38,0.36],[41,0.471],[45,0.508],[49,0.5],[52,0.538],[56,0.508],[59,0.523],[62,0.538],[67,0.508],[70,0.471],[73,0.434],[76,0.508],[79,0.611],[82,0.67],[85,0.685],[90,0.67],[95,0.692],[98,0.855],[101,1.0],[104,1.0],[107,0.914],[110,0.803],[114,0.656],[117,0.552],[120,0.508],[123,0.479],[126,0.464],[129,0.434],[132,0.383],[136,0.36],[139,0.331],[142,0.287],[145,0.243],[148,0.22],[151,0.213],[154,0.169],[158,0.11],[161,0.11],[164,0.088],[169,0.058],[173,0.051],[176,0.029],[181,0],[202,0],[205,0.036],[211,0.066],[217,0.08],[227,0.139],[233,0.139],[239,0.11],[245,0.103],[252,0.147],[255,0.176],[258,0.184],[277,0.184],[280,0.139],[283,0.11],[288,0.066],[291,0.044],[294,0],[336,0],[340,0.044],[358,0.044],[361,0],[550,0]];
var bs3 = [[0,0],[10,0],[13,0.044],[19,0.08],[26,0.117],[32,0.154],[38,0.213],[41,0.28],[45,0.228],[48,0.287],[52,0.287],[56,0.243],[59,0.191],[70,0.191],[73,0.169],[76,0.147],[79,0.228],[82,0.36],[85,0.552],[89,0.685],[92,0.751],[95,0.795],[98,0.788],[101,0.729],[104,0.818],[107,0.928],[109,1.0],[112,0.914],[115,0.803],[118,0.692],[121,0.611],[125,0.567],[128,0.67],[131,0.611],[134,0.615],[137,0.508],[140,0.434],[143,0.36],[147,0.375],[150,0.346],[153,0.287],[156,0.213],[159,0.176],[162,0.139],[165,0.08],[169,0.051],[172,0.051],[175,0.021],[180,0],[183,0],[186,0.029],[189,0.095],[192,0.139],[195,0.191],[205,0.191],[208,0.243],[211,0.213],[214,0.176],[217,0.147],[220,0.147],[224,0.066],[228,0.051],[233,0.066],[238,0.139],[247,0.139],[252,0.147],[256,0.169],[261,0.147],[267,0.139],[271,0.147],[275,0.139],[280,0.132],[285,0.095],[289,0.058],[293,0],[333,0],[336,0.044],[358,0.051],[361,0.029],[365,0],[437,0],[440,0.044],[468,0.044],[471,0],[550,0]];
var bs4 = [[0,0],[10,0],[13,0.029],[19,0.066],[26,0.103],[32,0.161],[38,0.228],[45,0.302],[49,0.375],[54,0.434],[57,0.493],[60,0.434],[63,0.412],[67,0.39],[70,0.434],[73,0.486],[76,0.611],[79,0.656],[82,0.7],[85,0.729],[89,0.847],[92,0.862],[95,0.914],[98,0.95],[101,0.914],[104,0.95],[107,0.995],[110,0.965],[114,0.914],[117,0.803],[120,0.692],[123,0.619],[126,0.582],[129,0.567],[132,0.434],[136,0.36],[139,0.309],[142,0.287],[145,0.331],[148,0.346],[151,0.324],[154,0.302],[158,0.257],[161,0.294],[164,0.331],[167,0.316],[172,0.302],[175,0.331],[180,0.287],[183,0.257],[186,0.272],[191,0.243],[195,0.257],[200,0.228],[205,0.243],[211,0.213],[216,0.191],[220,0.2],[230,0.169],[239,0.139],[242,0.103],[245,0.08],[252,0.11],[255,0.103],[258,0.058],[261,0.036],[267,0.036],[272,0.058],[275,0.058],[278,0.036],[293,0.036],[296,0.051],[308,0.066],[321,0.08],[333,0.084],[340,0.08],[344,0.066],[349,0.058],[358,0.058],[361,0.044],[365,0],[437,0],[440,0.029],[471,0.029],[474,0],[550,0]];
var bs5 = [[0,0],[10,0],[12,0.051],[16,0.103],[21,0.154],[26,0.21],[30,0.287],[35,0.434],[38,0.508],[41,0.582],[45,0.597],[48,0.715],[51,0.737],[54,0.715],[57,0.707],[60,0.715],[63,0.685],[67,0.788],[70,0.796],[73,0.692],[76,0.508],[79,0.449],[82,0.582],[85,0.729],[89,0.847],[92,0.95],[95,0.995],[98,1.0],[101,0.987],[104,0.936],[107,0.877],[110,0.95],[114,0.877],[117,0.825],[120,0.766],[123,0.656],[126,0.552],[129,0.449],[132,0.39],[136,0.324],[139,0.309],[142,0.338],[145,0.316],[150,0.287],[154,0.272],[159,0.324],[164,0.309],[169,0.28],[173,0.287],[176,0.272],[181,0.243],[186,0.316],[200,0.316],[203,0.346],[208,0.368],[211,0.397],[214,0.397],[217,0.383],[220,0.338],[225,0.324],[231,0.346],[234,0.309],[239,0.272],[242,0.235],[245,0.213],[250,0.206],[253,0.184],[256,0.169],[260,0.154],[263,0.14],[266,0.088],[269,0.11],[272,0.125],[275,0.14],[278,0.147],[282,0.161],[285,0.132],[291,0.14],[296,0.161],[300,0.132],[305,0.117],[310,0.103],[314,0.077],[319,0.063],[324,0.077],[336,0.077],[341,0.063],[346,0.048],[352,0.044],[358,0.029],[361,0.021],[365,0],[550,0]];
var bs6 = [[0,0],[7,0],[12,0.066],[16,0.103],[21,0.139],[26,0.176],[30,0.25],[35,0.316],[38,0.375],[41,0.405],[46,0.42],[51,0.449],[56,0.508],[59,0.574],[63,0.597],[67,0.619],[70,0.574],[73,0.567],[76,0.626],[79,0.678],[84,0.685],[87,0.67],[90,0.729],[93,0.788],[96,0.825],[99,0.892],[103,0.95],[106,0.98],[109,1.0],[112,0.914],[115,0.855],[118,0.803],[121,0.692],[125,0.619],[129,0.552],[132,0.434],[136,0.36],[139,0.338],[142,0.36],[145,0.375],[148,0.36],[151,0.368],[154,0.36],[158,0.324],[161,0.309],[165,0.338],[169,0.316],[173,0.338],[178,0.338],[181,0.331],[184,0.434],[187,0.545],[191,0.582],[195,0.611],[198,0.64],[202,0.67],[205,0.766],[208,0.928],[211,0.95],[214,1.0],[217,0.995],[220,0.95],[223,0.928],[227,0.95],[230,0.98],[233,0.98],[236,0.892],[239,0.818],[242,0.744],[245,0.707],[249,0.81],[252,0.83],[256,0.833],[261,0.796],[264,0.766],[269,0.715],[272,0.678],[275,0.663],[278,0.729],[282,0.729],[285,0.67],[288,0.589],[291,0.545],[294,0.479],[297,0.449],[302,0.397],[307,0.346],[310,0.302],[313,0.213],[316,0.154],[319,0.077],[322,0.139],[325,0.213],[329,0.191],[333,0.213],[336,0.198],[340,0.176],[346,0.176],[352,0.173],[355,0.169],[358,0.066],[361,0.044],[365,0],[402,0],[409,0.021],[440,0.021],[443,0],[550,0]];
var bs7 = [[0,0],[10,0],[14,0.03],[18,0.07],[23,0.1],[27,0.14],[31,0.18],[35,0.22],[40,0.27],[43,0.33],[47,0.35],[50,0.31],[54,0.4],[57,0.47],[60,0.5],[64,0.52],[67,0.55],[70,0.49],[74,0.56],[78,0.6],[82,0.63],[86,0.7],[90,0.78],[94,0.85],[98,0.9],[102,0.93],[106,0.97],[110,1.0],[114,0.93],[118,0.8],[122,0.68],[126,0.55],[130,0.45],[134,0.36],[138,0.3],[142,0.33],[146,0.36],[151,0.39],[158,0.49],[167,0.61],[175,0.6],[181,0.55],[186,0.61],[195,0.54],[202,0.61],[208,0.656],[214,0.663],[220,0.7],[223,0.707],[228,0.685],[234,0.715],[239,0.744],[242,0.759],[247,0.626],[250,0.611],[255,0.589],[260,0.589],[264,0.567],[267,0.515],[271,0.56],[274,0.589],[278,0.663],[282,0.656],[285,0.611],[288,0.589],[291,0.64],[296,0.611],[300,0.611],[304,0.493],[308,0.36],[311,0.316],[314,0.39],[321,0.39],[324,0.368],[327,0.449],[332,0.493],[336,0.493],[343,0.442],[346,0.375],[349,0.316],[352,0.25],[355,0.228],[358,0.139],[361,0.066],[365,0.036],[371,0.021],[374,0.066],[377,0.095],[380,0.103],[383,0.125],[388,0.125],[391,0.103],[396,0.103],[399,0.095],[402,0.088],[405,0.058],[409,0.044],[412,0.025],[413,0.05],[416,0.025],[446,0.025],[449,0],[550,0]];
var bs8 = [[0,0],[8,0],[13,0.029],[18,0.066],[23,0.088],[29,0.117],[32,0.147],[37,0.198],[41,0.243],[46,0.25],[51,0.243],[56,0.235],[60,0.25],[63,0.243],[68,0.28],[73,0.294],[78,0.324],[81,0.316],[85,0.36],[90,0.39],[95,0.427],[100,0.405],[104,0.442],[107,0.464],[110,0.486],[115,0.464],[120,0.471],[125,0.442],[129,0.427],[132,0.442],[136,0.375],[140,0.368],[145,0.39],[150,0.375],[154,0.397],[159,0.383],[164,0.353],[169,0.36],[173,0.324],[176,0.427],[180,0.434],[183,0.471],[186,0.508],[189,0.515],[192,0.538],[195,0.552],[200,0.611],[205,0.64],[209,0.589],[214,0.552],[220,0.508],[225,0.597],[230,0.633],[231,0.582],[234,0.626],[238,0.648],[241,0.633],[244,0.685],[247,0.729],[250,0.774],[253,0.825],[256,0.84],[260,0.84],[263,0.914],[269,0.914],[274,0.95],[278,0.958],[282,0.958],[285,0.928],[288,1.0],[291,0.958],[294,0.973],[297,0.928],[300,0.877],[303,0.84],[307,0.84],[311,0.825],[318,0.825],[321,0.729],[324,0.633],[329,0.619],[333,0.648],[336,0.633],[340,0.567],[343,0.493],[346,0.375],[349,0.302],[352,0.272],[355,0.294],[362,0.287],[365,0.257],[368,0.294],[371,0.28],[374,0.294],[387,0.294],[390,0.243],[393,0.176],[396,0.161],[402,0.095],[405,0.058],[409,0.073],[412,0.088],[415,0.103],[418,0.088],[421,0.095],[424,0.117],[427,0.147],[431,0.15],[434,0.139],[437,0.132],[440,0.106],[453,0.103],[456,0.095],[459,0.058],[462,0.036],[475,0.021],[481,0],[550,0]];

function main()
{
    var svgWidth = 1347;
    var svgHeight = 1099;
    var cropRight = 1337;   // right edge where the original figure was cut off
    var plotH = 452;

    var svg = d3.select("#figure").append("svg")
        .attr("width", svgWidth)
        .attr("height", svgHeight);

    // the last tick label of COR2015 is cut by the figure edge, as in the original
    svg.append("clipPath").attr("id", "clip-page")
        .append("rect").attr("x", 0).attr("y", 0).attr("width", 1342).attr("height", svgHeight);

    var panels = [
        { id: "a", left: 80,  right: 665,  top: 44,  xTicks: xTicksA, series: [a0,a1,a2,a3,a4,a5,a6,a7,a8], days: daysA, xLabel: true,  box: true },
        { id: "b", left: 766, right: 1349, top: 44,  xTicks: xTicksB, series: [b0,b1,b2,b3,b4,b5,b6,b7,b8], days: daysB, xLabel: true,  box: false },
        { id: "c", left: 80,  right: 665,  top: 611, xTicks: xTicksC, series: [c0,c1,c2,c3,c4,c5,c6,c7,c8], days: daysC, xLabel: false, box: true },
        { id: "d", left: 766, right: 1350, top: 611, xTicks: xTicksD, series: [bs0,bs1,bs2,bs3,bs4,bs5,bs6,bs7,bs8], days: daysD, xLabel: false, box: false }
    ];

    panels.forEach(function(p, pi) {
        var bottom = p.top + plotH;
        var visRight = Math.min(p.right, cropRight);
        var x = d3.scaleLinear().domain([0, xMaxes[pi]]).range([p.left, p.right]);
        var y = d3.scaleLinear().domain([0, 1]).range([bottom, p.top]);

        var g = svg.append("g").attr("clip-path", "url(#clip-page)");

        // clip for the curves
        g.append("clipPath").attr("id", "clip-" + p.id)
            .append("rect")
            .attr("x", p.left).attr("y", p.top - 3)
            .attr("width", visRight - p.left).attr("height", plotH + 6);

        // bottom axis with labels, ticks pointing inward
        var xb = g.append("g")
            .attr("transform", "translate(0," + bottom + ")")
            .call(d3.axisBottom(x).tickValues(p.xTicks).tickSizeInner(-6).tickSizeOuter(0).tickPadding(15)
                .tickFormat(d3.format("d")));
        // top axis: ticks only
        var xt = g.append("g")
            .attr("transform", "translate(0," + p.top + ")")
            .call(d3.axisTop(x).tickValues(p.xTicks).tickSizeInner(-6).tickSizeOuter(0).tickFormat(""));
        // left axis
        var yl = g.append("g")
            .attr("transform", "translate(" + p.left + ",0)")
            .call(d3.axisLeft(y).tickValues(yTicks).tickSizeInner(-6).tickSizeOuter(0).tickPadding(8)
                .tickFormat(d3.format("~g")));
        var axes = [xb, xt, yl];
        if (p.box) {
            var yr = g.append("g")
                .attr("transform", "translate(" + p.right + ",0)")
                .call(d3.axisRight(y).tickValues(yTicks).tickSizeInner(-6).tickSizeOuter(0).tickFormat(""));
            axes.push(yr);
        }
        axes.forEach(function(a) {
            a.select(".domain").remove();
            a.selectAll(".tick line").attr("stroke", "#404040");
            a.selectAll("text").attr("font-size", 20).attr("fill", "#262626")
                .attr("font-family", "'Liberation Sans', Arial, sans-serif");
        });

        // frame
        var frame = [[p.left, p.top, visRight, p.top], [p.left, bottom, visRight, bottom], [p.left, p.top, p.left, bottom]];
        if (p.box) frame.push([p.right, p.top, p.right, bottom]);
        g.selectAll(".frame").data(frame).enter().append("line")
            .attr("x1", function(d) { return d[0]; }).attr("y1", function(d) { return d[1]; })
            .attr("x2", function(d) { return d[2]; }).attr("y2", function(d) { return d[3]; })
            .attr("stroke", "#404040").attr("stroke-width", 1);

        // curves
        var line = d3.line()
            .x(function(d) { return x(d[0]); })
            .y(function(d) { return y(d[1]); });
        g.append("g").attr("clip-path", "url(#clip-" + p.id + ")")
            .selectAll("path").data(p.series).enter().append("path")
            .attr("d", line)
            .attr("fill", "none")
            .attr("stroke", function(d, i) { return colors[i]; })
            .attr("stroke-width", 2.3)
            .attr("stroke-linejoin", "round");

        // title and panel letter
        g.append("text")
            .attr("x", (p.left + p.right) / 2)
            .attr("y", p.top - 12)
            .attr("text-anchor", "middle")
            .attr("font-size", 23)
            .attr("font-weight", "bold")
            .attr("fill", "#000")
            .text(panelTitles[pi]);
        g.append("text")
            .attr("x", p.left - 72)
            .attr("y", p.top + 3)
            .attr("font-size", 38)
            .attr("font-weight", "bold")
            .attr("fill", "#000")
            .text(panelLetters[pi]);

        // y label
        g.append("text")
            .attr("transform", "translate(" + (p.left - 50) + "," + (p.top + plotH / 2) + ") rotate(-90)")
            .attr("text-anchor", "middle")
            .attr("font-size", 22)
            .style("white-space", "pre")
            .text("Normalized  event #");

        if (p.xLabel) {
            g.append("text")
                .attr("x", (p.left + p.right) / 2)
                .attr("y", bottom + 64)
                .attr("text-anchor", "middle")
                .attr("font-size", 22)
                .text("distance (m)");
        }

        // colorbar
        var cbLeft = p.left + 482, cbTop = p.top + 71, cbW = 23, cbH = 226;
        var band = d3.scaleBand().domain(d3.range(colors.length)).range([cbTop + cbH, cbTop]);
        g.selectAll(".cb").data(colors).enter().append("rect")
            .attr("x", cbLeft)
            .attr("y", function(d, i) { return band(i); })
            .attr("width", cbW)
            .attr("height", band.bandwidth())
            .attr("fill", function(d) { return d; });
        g.append("rect")
            .attr("x", cbLeft).attr("y", cbTop).attr("width", cbW).attr("height", cbH)
            .attr("fill", "none").attr("stroke", "#404040").attr("stroke-width", 1);
        var cbAxis = g.append("g")
            .attr("transform", "translate(" + (cbLeft + cbW) + ",0)")
            .call(d3.axisRight(band).tickValues([8, 6, 4, 2, 0]).tickSizeInner(-4).tickSizeOuter(0).tickPadding(7)
                .tickFormat(function(d, i) { return p.days[i]; }));
        cbAxis.select(".domain").remove();
        cbAxis.selectAll(".tick line").attr("stroke", "#404040");
        cbAxis.selectAll("text").attr("font-size", 19.5).attr("fill", "#262626")
            .attr("font-family", "'Liberation Sans', Arial, sans-serif");
        g.append("text")
            .attr("x", cbLeft + cbW / 2)
            .attr("y", cbTop - 14)
            .attr("text-anchor", "middle")
            .attr("font-size", 19.5)
            .text("days");
    });
}
main();
</script>
</body>
</html>
